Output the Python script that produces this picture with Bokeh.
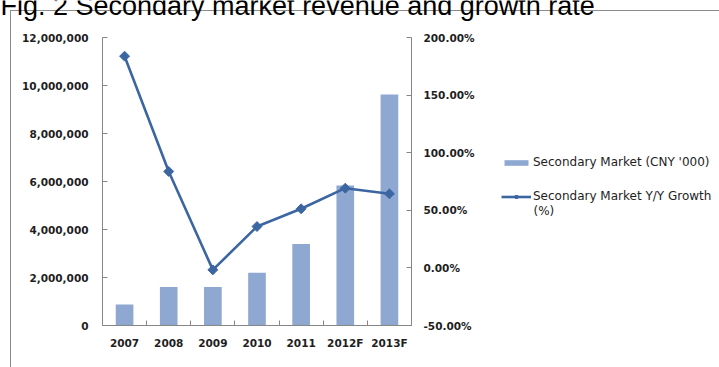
import numpy as np
from bokeh.plotting import figure
from bokeh.models import (Range1d, LinearAxis, FixedTicker, NumeralTickFormatter,
                          PrintfTickFormatter, Legend, LegendItem, Label)
from bokeh.embed import file_html
from bokeh.resources import INLINE

# ---------------- data ----------------
title_text = "Fig. 2 Secondary market revenue and growth rate"
years = ["2007", "2008", "2009", "2010", "2011", "2012F", "2013F"]
revenue = [880000, 1600000, 1600000, 2200000, 3400000, 5830000, 9620000]
growth_pct = [183.8, 83.7, -1.7, 35.9, 51.3, 69.2, 64.3]
rev_ticks = [0, 2000000, 4000000, 6000000, 8000000, 10000000, 12000000]
pct_ticks = [-50, 0, 50, 100, 150, 200]
bar_name = "Secondary Market (CNY '000)"
line_name = "Secondary Market Y/Y Growth"
line_name_2 = "(%)"

# ---------------- style / layout ----------------
bar_color = "#8FA8D2"
line_color = "#3C66A2"
axis_color = "#868686"
tick_text = "#1e1e1e"
legend_text = "#1e1e1e"
frame_border = "#8c8c8c"
W, H = 719, 367
PLOT_LEFT, PLOT_RIGHT = 102, 411      # pixel extent of the category area
PLOT_TOP, PLOT_BOTTOM = 37, 325       # pixel extent of the value axes
n = len(years)
PX_PER_CAT = (PLOT_RIGHT - PLOT_LEFT) / n
REV_SPAN = rev_ticks[-1] - rev_ticks[0]
PCT_SPAN = pct_ticks[-1] - pct_ticks[0]
PX_H = PLOT_BOTTOM - PLOT_TOP

def xdata(px):            # pixel column -> category coordinate
    return 0.5 + (px - PLOT_LEFT) / PX_PER_CAT

def rev_at(py):           # pixel row -> revenue coordinate
    return rev_ticks[0] + (PLOT_BOTTOM - py) / PX_H * REV_SPAN

def pct_at(py):
    return pct_ticks[0] + (PLOT_BOTTOM - py) / PX_H * PCT_SPAN

LEFT_SO, RIGHT_SO, BOTTOM_SO = -70, -53, -14   # negative standoffs keep side panels empty

xs = [i + 1 for i in range(n)]
centers = xs
bounds = [i + 0.5 for i in range(n + 1)]

border_css = (f"linear-gradient({frame_border},{frame_border}) 10px 10px / 100% 1px no-repeat, "
              f"linear-gradient({frame_border},{frame_border}) 10px 10px / 1px 100% no-repeat, "
              "#ffffff")

p = figure(width=W, height=H, output_backend="svg", toolbar_location=None,
           x_range=Range1d(xdata(0), xdata(W)),
           y_range=Range1d(rev_at(H), rev_at(0)),
           x_axis_location=None, y_axis_location=None,
           min_border_left=0, min_border_right=0,
           min_border_top=0, min_border_bottom=0,
           styles={"background": border_css})
p.extra_y_ranges = {"pct": Range1d(pct_at(H), pct_at(0))}
p.outline_line_color = None
p.background_fill_color = None
p.border_fill_color = None
p.grid.visible = False

def style_axis(ax, size="10.5px"):
    ax.axis_line_color = axis_color
    ax.major_tick_line_color = axis_color
    ax.minor_tick_line_color = None
    ax.major_tick_in = 5
    ax.major_tick_out = 0
    ax.major_label_text_font = "DejaVu Sans"
    ax.major_label_text_font_style = "bold"
    ax.major_label_text_font_size = size
    ax.major_label_text_color = tick_text

# ---- left axis: line/ticks + labels
left_line = LinearAxis(ticker=FixedTicker(ticks=rev_ticks), fixed_location=0.5,
                       bounds=(rev_ticks[0], rev_ticks[-1]),
                       major_label_overrides={t: "" for t in rev_ticks})
style_axis(left_line)
left_line.major_label_standoff = 0
p.add_layout(left_line, "left")

left_lab = LinearAxis(ticker=FixedTicker(ticks=rev_ticks),
                      fixed_location=xdata(88 + LEFT_SO),
                      formatter=NumeralTickFormatter(format="0,0"))
style_axis(left_lab)
left_lab.axis_line_color = None
left_lab.major_tick_line_color = None
left_lab.major_tick_in = 0
left_lab.major_label_standoff = LEFT_SO
p.add_layout(left_lab, "left")

# ---- right axis: line/ticks + labels
right_line = LinearAxis(y_range_name="pct", ticker=FixedTicker(ticks=pct_ticks),
                        fixed_location=n + 0.5, bounds=(pct_ticks[0], pct_ticks[-1]),
                        major_label_overrides={t: "" for t in pct_ticks})
style_axis(right_line)
right_line.major_label_standoff = 0
p.add_layout(right_line, "right")

right_lab = LinearAxis(y_range_name="pct", ticker=FixedTicker(ticks=pct_ticks),
                       fixed_location=xdata(423 - RIGHT_SO),
                       formatter=PrintfTickFormatter(format="%.2f%%"))
style_axis(right_lab)
right_lab.axis_line_color = None
right_lab.major_tick_line_color = None
right_lab.major_tick_in = 0
right_lab.major_label_standoff = RIGHT_SO
p.add_layout(right_lab, "right")

# ---- bottom axis: line/ticks + labels
bottom_line = LinearAxis(ticker=FixedTicker(ticks=centers, minor_ticks=bounds),
                         fixed_location=rev_ticks[0], bounds=(0.5, n + 0.5),
                         major_label_overrides={c: "" for c in centers})
style_axis(bottom_line)
bottom_line.major_tick_in = 0
bottom_line.minor_tick_line_color = axis_color
bottom_line.minor_tick_in = 5
bottom_line.minor_tick_out = 0
bottom_line.major_label_standoff = 0
p.add_layout(bottom_line, "below")

bottom_lab = LinearAxis(ticker=FixedTicker(ticks=centers),
                        fixed_location=rev_at(336 - BOTTOM_SO),
                        major_label_overrides={c: y for c, y in zip(centers, years)})
style_axis(bottom_lab)
bottom_lab.axis_line_color = None
bottom_lab.major_tick_line_color = None
bottom_lab.major_tick_in = 0
bottom_lab.major_label_standoff = BOTTOM_SO
p.add_layout(bottom_lab, "below")

# ---- glyphs
bars = p.vbar(x=xs, top=revenue, width=0.4, fill_color=bar_color, line_color=None)
ln = p.line(x=xs, y=growth_pct, y_range_name="pct", line_color=line_color, line_width=2.6)
pts = p.scatter(x=xs, y=growth_pct, y_range_name="pct", marker="square",
                angle=np.pi / 4, size=7, fill_color=line_color, line_color=line_color)

legend = Legend(items=[LegendItem(label=bar_name, renderers=[bars]),
                       LegendItem(label=line_name, renderers=[ln, pts])],
                location=(501, H - 203), orientation="vertical",
                padding=0, spacing=20, margin=0,
                glyph_width=30, glyph_height=7, label_standoff=2,
                label_text_font="DejaVu Sans", label_text_font_size="12px",
                label_text_color=legend_text,
                border_line_color=None, background_fill_alpha=0)
p.add_layout(legend)

# second line of the growth legend label
p.add_layout(Label(x=533, y=H - 210, x_units="screen", y_units="screen",
                   text=line_name_2, text_font="DejaVu Sans", text_font_size="12px",
                   text_baseline="middle", text_color=legend_text))

# title (cropped at the top edge, as in the source image)
p.add_layout(Label(x=0, y=H - 5.5, x_units="screen", y_units="screen",
                   text=title_text, text_font="Liberation Sans",
                   text_font_size="27px", text_baseline="alphabetic",
                   text_color="black"))

open("out.html", "w").write(file_html(p, INLINE))
